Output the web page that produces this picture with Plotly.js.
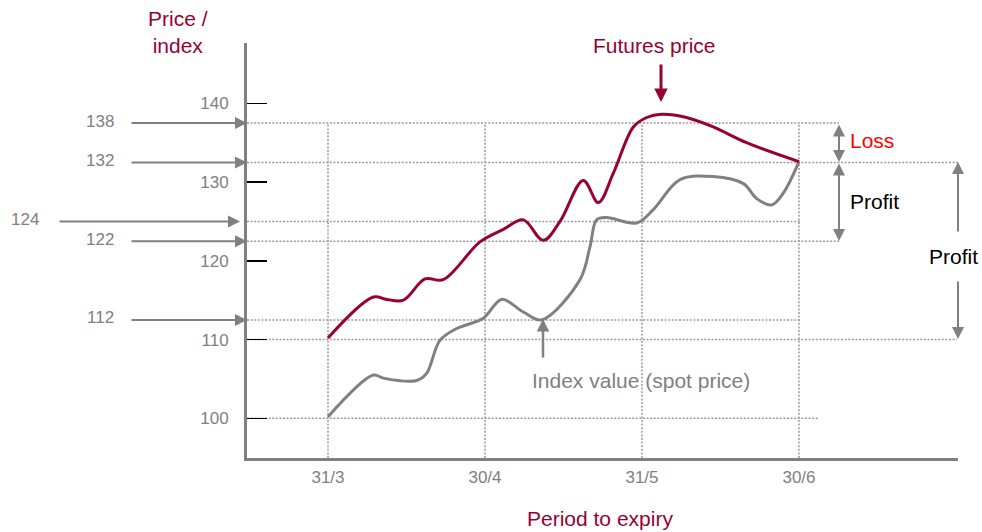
<!DOCTYPE html>
<html>
<head>
<meta charset="utf-8">
<script src="https://cdn.plot.ly/plotly-3.0.1.min.js"></script>
<style>
  html, body { margin: 0; padding: 0; background: #ffffff; }
  #chart { width: 982px; height: 532px; }
</style>
</head>
<body>
<div id="chart"></div>
<script>
// ---------- data ----------
const monthLabels = ['31/3', '30/4', '31/5', '30/6'];
const monthPos = [0, 1, 2, 3];

const futuresX = [0, 0.289, 0.374, 0.48, 0.618, 0.734, 0.968, 1.117, 1.244, 1.371, 1.478, 1.626, 1.722, 1.817, 1.945, 2.03, 2.125, 2.283, 2.454, 2.667, 3.0];
const futuresY = [110.2, 115.4, 115.1, 115.0, 117.7, 117.6, 122.4, 124.0, 125.2, 122.6, 125.0, 130.2, 127.4, 131.1, 137.0, 138.2, 138.6, 138.2, 137.0, 135.0, 132.6];

const indexX = [0, 0.289, 0.352, 0.565, 0.628, 0.713, 0.82, 0.989, 1.106, 1.244, 1.361, 1.605, 1.669, 1.711, 1.775, 1.966, 2.072, 2.242, 2.454, 2.646, 2.731, 2.826, 2.9, 3.0];
const indexY = [100.2, 105.5, 105.1, 104.8, 105.7, 109.9, 111.4, 112.7, 115.1, 113.5, 112.5, 117.6, 121.8, 125.2, 125.5, 124.8, 126.5, 130.3, 130.7, 129.8, 127.9, 127.1, 128.6, 132.6];

const yTickVals = [100, 110, 120, 130, 140];
const yTickText = ['100', '110', '120', '130', '140'];

// reference levels as drawn, with their labels
const levelValues = [137.5, 132.5, 125.0, 122.5, 112.5];
const levelLabels = ['138', '132', '124', '122', '112'];

// ---------- layout geometry ----------
const W = 982, H = 532;
const L = 247, R = 958, T = 43, B = 458;
const xr = [-0.516, 4.013];
const yr = [94.96, 147.66];
const px = p => (p - L) / (R - L);            // pixel -> paper x
const py = p => (B - p) / (B - T);            // pixel -> paper y
const dx = p => xr[0] + (p - L) / (R - L) * (xr[1] - xr[0]); // pixel -> data x

const GRAY = '#808080';
const MAROON = '#990033';
const FONT = 'Liberation Sans, Arial, sans-serif';
const BIG = 21;
const SMALL = 17;
const dotted = {color: '#9a9a9a', width: 1.5, dash: '2px,1.6px'};

// ---------- shapes ----------
const shapes = [];
monthPos.forEach(m => {
  shapes.push({type: 'line', xref: 'x', yref: 'y', x0: m, x1: m, y0: yr[0], y1: levelValues[0], line: dotted, layer: 'below'});
});
const levelEnds = [839, 958, 800, 839, 800];
levelValues.forEach((v, i) => {
  shapes.push({type: 'line', xref: 'x', yref: 'y', x0: xr[0], x1: dx(levelEnds[i]), y0: v, y1: v, line: dotted, layer: 'below'});
});
shapes.push({type: 'line', xref: 'x', yref: 'y', x0: xr[0], x1: dx(957), y0: yTickVals[1], y1: yTickVals[1], line: dotted, layer: 'below'});
shapes.push({type: 'line', xref: 'x', yref: 'y', x0: xr[0], x1: dx(819), y0: yTickVals[0], y1: yTickVals[0], line: dotted, layer: 'below'});

// ---------- annotations ----------
const ann = [];
const txt = (text, x, y, color, size, opts) => Object.assign({
  text: text, xref: 'paper', yref: 'paper', x: px(x), y: py(y), showarrow: false,
  font: {family: FONT, size: size, color: color}, xanchor: 'center', yanchor: 'middle'
}, opts || {});
const arrow = (x, y, axPix, ayPix, color, width, size, side) => ({
  text: '', xref: 'paper', yref: 'paper', x: px(x), y: py(y),
  ax: axPix - x, ay: ayPix - y, axref: 'pixel', ayref: 'pixel',
  showarrow: true, arrowhead: 2, startarrowhead: 2, arrowside: side || 'end',
  arrowcolor: color, arrowwidth: width, arrowsize: size, startarrowsize: size,
  standoff: 0, startstandoff: 0
});

const tailX = [130, 130, 58, 130, 130];
const tipX = [247, 247, 240, 247, 247];
const labelX = [100, 100, 25, 100, 100];
levelValues.forEach((v, i) => {
  const yPix = B - (v - yr[0]) / (yr[1] - yr[0]) * (B - T);
  ann.push(arrow(tipX[i], yPix, tailX[i], yPix, GRAY, 2, 1.2));
  ann.push(txt(levelLabels[i], labelX[i], yPix - 2, GRAY, SMALL));
});

ann.push(txt('Price /<br>index', 178, 32, MAROON, BIG));
ann.push(txt('Futures price', 654, 45, MAROON, BIG));
ann.push(arrow(661, 102, 661, 63, MAROON, 3, 0.9));
ann.push(txt('Index value (spot price)', 641, 380, GRAY, BIG));
ann.push(arrow(543, 319, 543, 359, GRAY, 2.5, 1.0));
ann.push(txt('Loss', 848, 140, '#ff0000', BIG, {xanchor: 'left'}));
ann.push(arrow(839, 162, 839, 123, GRAY, 2, 1.2, 'end+start'));
ann.push(txt('Profit', 848, 201, '#000000', BIG, {xanchor: 'left'}));
ann.push(arrow(839, 241, 839, 162, GRAY, 2, 1.2, 'end+start'));
ann.push(txt('Profit', 953, 256, '#000000', BIG));
ann.push(arrow(958, 162, 958, 233, GRAY, 2, 1.2));
ann.push(arrow(958, 339, 958, 280, GRAY, 2, 1.2));
ann.push(txt('Period to expiry', 600, 518, MAROON, BIG));

// ---------- traces ----------
const traces = [
  {x: indexX, y: indexY, type: 'scatter', mode: 'lines', name: 'Index value (spot price)',
   line: {color: GRAY, width: 3, shape: 'spline', smoothing: 1}, hoverinfo: 'skip'},
  {x: futuresX, y: futuresY, type: 'scatter', mode: 'lines', name: 'Futures price',
   line: {color: MAROON, width: 3, shape: 'spline', smoothing: 1}, hoverinfo: 'skip'}
];

const layout = {
  width: W, height: H,
  margin: {l: L, r: W - R, t: T, b: H - B, pad: 0},
  paper_bgcolor: '#ffffff', plot_bgcolor: '#ffffff',
  showlegend: false,
  font: {family: FONT},
  xaxis: {
    range: xr, tickvals: monthPos, ticktext: monthLabels,
    showgrid: false, zeroline: false, showline: true, linecolor: GRAY, linewidth: 3,
    ticks: '', tickfont: {family: FONT, size: SMALL, color: GRAY}, ticklabelstandoff: 2,
    fixedrange: true
  },
  yaxis: {
    range: yr, tickvals: yTickVals, ticktext: yTickText,
    showgrid: false, zeroline: false, showline: true, linecolor: GRAY, linewidth: 3,
    ticks: 'inside', ticklen: 20, tickwidth: 1.5, tickcolor: '#000000',
    tickfont: {family: FONT, size: SMALL, color: GRAY}, ticklabelstandoff: 12,
    fixedrange: true
  },
  shapes: shapes,
  annotations: ann
};

Plotly.newPlot('chart', traces, layout, {displayModeBar: false, staticPlot: true});
</script>
</body>
</html>
